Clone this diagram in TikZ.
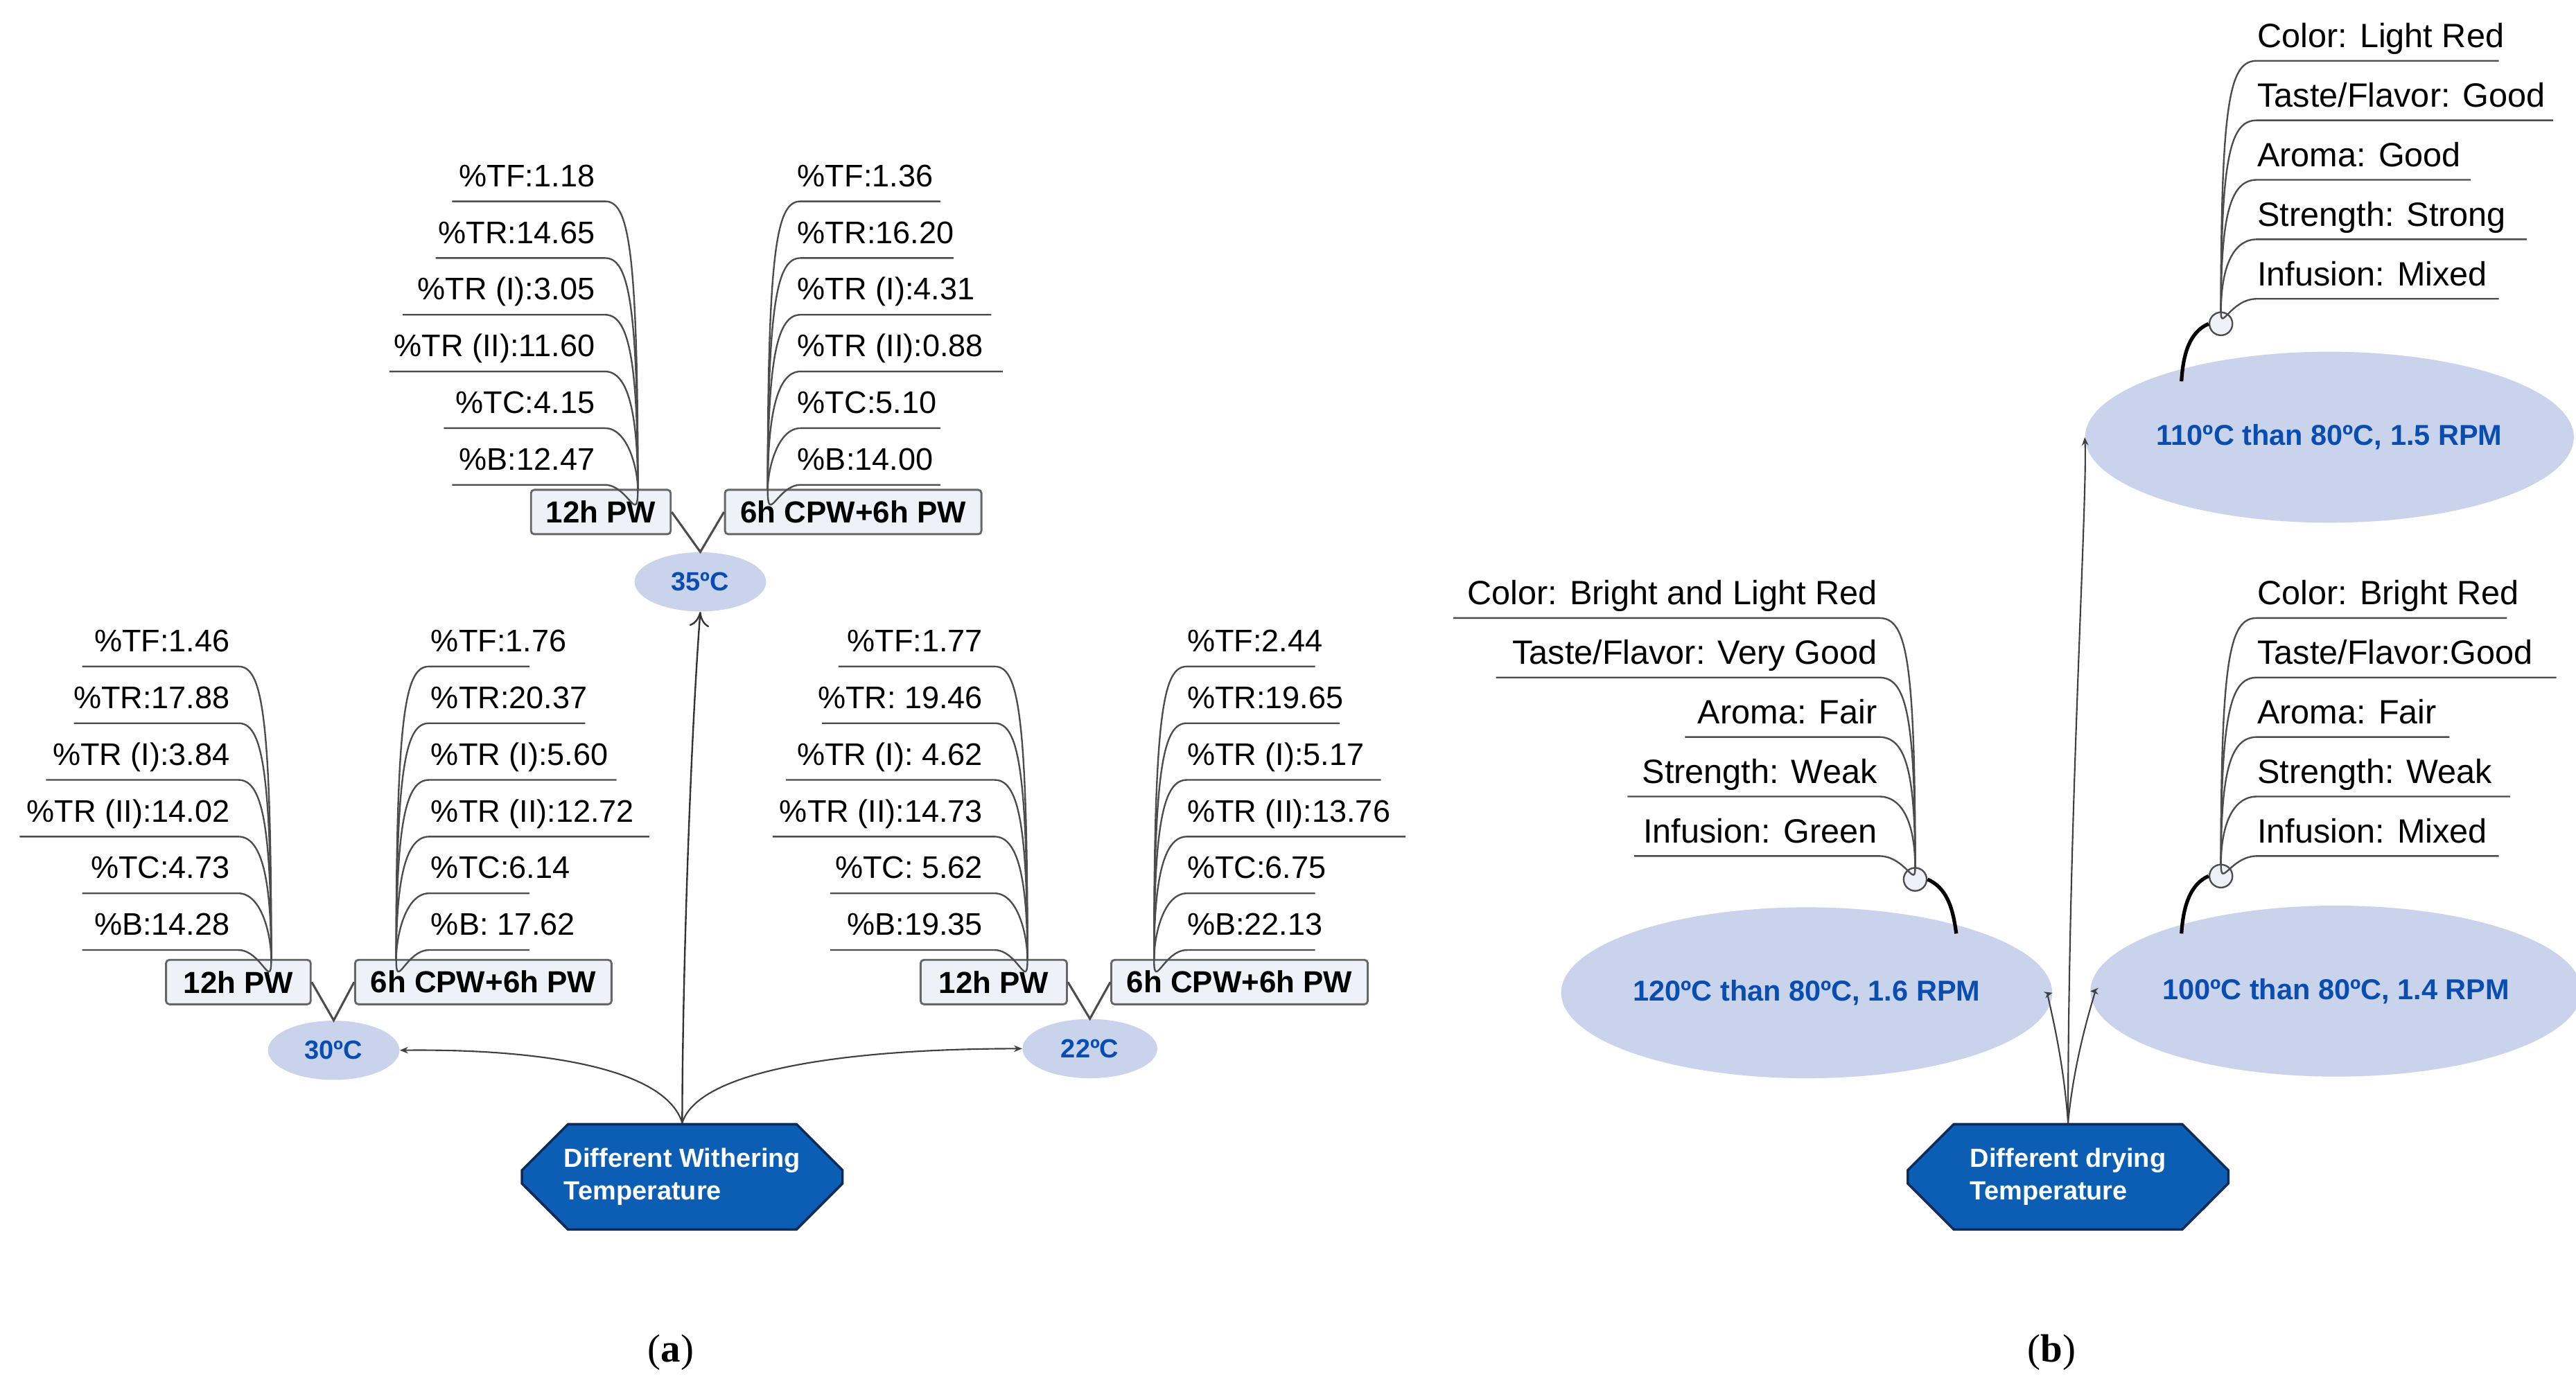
\documentclass[tikz,border=0pt]{standalone}
\usepackage{fontspec}
\setmainfont{Liberation Sans}
\newfontfamily\capfont{Liberation Serif}
\usetikzlibrary{shapes.geometric,shapes.misc,arrows.meta}
\definecolor{ellfill}{HTML}{C9D3EB}
\definecolor{elltext}{HTML}{0A4DB0}
\definecolor{rootfill}{HTML}{0B5EB3}
\definecolor{rootdraw}{HTML}{0B2C5A}
\definecolor{boxfill}{HTML}{EEF1F8}
\tikzset{
  leaf/.style={inner sep=0pt, font=\fontsize{19}{21}\selectfont},
  leafb/.style={inner sep=0pt, font=\fontsize{20.5}{23}\selectfont},
  leafline/.style={draw=black!70, line width=1pt},
  box/.style={draw=black!60, line width=1.2pt, fill=boxfill, rounded corners=2pt, minimum height=27pt, inner sep=0pt, font=\bfseries\fontsize{18.5}{20}\selectfont},
  temp/.style={ellipse, fill=ellfill, inner sep=0pt, text=elltext, font=\bfseries\fontsize{16}{18}\selectfont},
  tempb/.style={temp, font=\bfseries\fontsize{17.5}{19}\selectfont},
  root/.style={chamfered rectangle, chamfered rectangle xsep=14pt, chamfered rectangle ysep=14pt, fill=rootfill, draw=rootdraw, line width=1.5pt, minimum width=195pt, minimum height=64pt, text=white, align=left, font=\bfseries\fontsize{16}{20}\selectfont, inner sep=0pt},
  arr/.style={draw=black!75, line width=0.9pt, -{Stealth[length=5pt,width=4pt]}},
  thick/.style={draw=black, line width=2.2pt},
  dot/.style={circle, draw=black!70, fill=boxfill, line width=1pt, minimum size=14pt, inner sep=0pt}
}
\newcommand\myleafsL[6]{%
 \foreach \l/\t [count=\i] in {#6} {
   \pgfmathsetmacro\yy{#5+(\i-1)*34.5}
   \node[leaf, anchor=base east] (#1t\i) at (#4,\yy-9) {\t};
   \coordinate (#1s\i) at (\l,\yy);
   \draw[leafline] (#1s\i) -- ({#2-20},\yy) .. controls ({#2-6},\yy) and (#2,{\yy+25}) .. (#2,#3);
 }}
\newcommand\myleafsR[6]{%
 \foreach \l/\t [count=\i] in {#6} {
   \pgfmathsetmacro\yy{#5+(\i-1)*34.5}
   \node[leaf, anchor=base west] (#1t\i) at (#4,\yy-9) {\t};
   \coordinate (#1s\i) at (\l,\yy);
   \draw[leafline] (#1s\i) -- ({#2+20},\yy) .. controls ({#2+6},\yy) and (#2,{\yy+25}) .. (#2,#3);
 }}
\newcommand\myattr[7]{%
 \foreach \l/\t [count=\i] in {#6} {
   \pgfmathsetmacro\yy{#5+(\i-1)*36.2}
   \ifnum#7>0
     \node[leafb, anchor=base west] (#1t\i) at (#4,\yy-8) {\t};
   \else
     \node[leafb, anchor=base east] (#1t\i) at (#4,\yy-8) {\t};
   \fi
   \coordinate (#1s\i) at (\l,\yy);
   \draw[leafline] (#1s\i) -- ({#2+#7*22},\yy) .. controls ({#2+#7*6},\yy) and (#2,{\yy+20}) .. (#2,{#3-7});
 }}
\begin{document}
\begin{tikzpicture}[x=1pt,y=-1pt]
\useasboundingbox (0,0) rectangle (1567,851);
% ---------- (a) ----------
\node[root] (rA) at (415,716) {Different Withering\\Temperature};
\node[temp, minimum width=80pt, minimum height=36pt] (t35) at (426,354) {35ºC};
\node[temp, minimum width=80pt, minimum height=36pt] (t30) at (203,639) {30ºC};
\node[temp, minimum width=82pt, minimum height=36pt] (t22) at (663,638) {22ºC};
\node[box, minimum width=85pt] (b35a) at (365.5,311.5) {12h PW};
\node[box, minimum width=156pt] (b35b) at (519,311.5) {6h CPW+6h PW};
\node[box, minimum width=88pt] (b30a) at (145,597.5) {12h PW};
\node[box, minimum width=156pt] (b30b) at (294,597.5) {6h CPW+6h PW};
\node[box, minimum width=89pt] (b22a) at (604.5,597.5) {12h PW};
\node[box, minimum width=156pt] (b22b) at (754,597.5) {6h CPW+6h PW};
\foreach \a/\b/\t in {b35a/b35b/t35,b30a/b30b/t30,b22a/b22b/t22}
  \draw[leafline, line width=1.3pt] (\a.east) -- (\t.north) -- (\b.west);
\myleafsL{La}{388}{298}{362}{122.5}{275/{\%TF:1.18},265/{\%TR:14.65},245/{\%TR (I):3.05},237/{\%TR (II):11.60},270/{\%TC:4.15},275/{\%B:12.47}}
\myleafsR{Ra}{467}{298}{485}{122.5}{572/{\%TF:1.36},580/{\%TR:16.20},603/{\%TR (I):4.31},610/{\%TR (II):0.88},572/{\%TC:5.10},572/{\%B:14.00}}
\myleafsL{Lb}{165}{584}{140}{405.5}{50/{\%TF:1.46},45/{\%TR:17.88},28/{\%TR (I):3.84},12/{\%TR (II):14.02},50/{\%TC:4.73},50/{\%B:14.28}}
\myleafsR{Rb}{241}{584}{262}{405.5}{322/{\%TF:1.76},356/{\%TR:20.37},375/{\%TR (I):5.60},395/{\%TR (II):12.72},322/{\%TC:6.14},322/{\%B: 17.62}}
\myleafsL{Lc}{625}{584}{598}{405.5}{510/{\%TF:1.77},500/{\%TR: 19.46},478/{\%TR (I): 4.62},470/{\%TR (II):14.73},505/{\%TC: 5.62},505/{\%B:19.35}}
\myleafsR{Rc}{702}{584}{722}{405.5}{800/{\%TF:2.44},815/{\%TR:19.65},840/{\%TR (I):5.17},855/{\%TR (II):13.76},800/{\%TC:6.75},800/{\%B:22.13}}
\draw[draw=black!80, line width=1pt, -{To[length=9pt,width=12pt]}] (rA.north) .. controls (415,600) and (420,450) .. (t35.south);
\draw[arr] (rA.north) .. controls (405,650) and (330,638) .. (t30.east);
\draw[arr] (rA.north) .. controls (425,650) and (520,638) .. (t22.west);
\node[font=\capfont\fontsize{24}{26}\selectfont] (capA) at (408,823) {(\textbf{a})};
% ---------- (b) ----------
\node[root] (rB) at (1258,716) {Different drying\\Temperature};
\node[tempb, minimum width=234pt, minimum height=104pt] (e110) at (1417,266) {110ºC than 80ºC, 1.5 RPM};
\node[tempb, minimum width=234pt, minimum height=104pt] (e120) at (1099,604) {120ºC than 80ºC, 1.6 RPM};
\node[tempb, minimum width=238pt, minimum height=104pt] (e100) at (1421,603) {100ºC than 80ºC, 1.4 RPM};
\node[dot] (d110) at (1351,197) {};
\node[dot] (d100) at (1351,533) {};
\node[dot] (d120) at (1165,535) {};
\draw[thick] (d110.west) .. controls (1332,202) and (1328,215) .. (1327,232);
\draw[thick] (d100.west) .. controls (1332,538) and (1328,552) .. (1327,568);
\draw[thick] (d120.east) .. controls (1184,540) and (1188,552) .. (1190,568);
\myattr{Pa}{1351}{197}{1373}{37}{1520/{Color: Light Red},1553/{Taste/Flavor: Good},1503/{Aroma: Good},1537/{Strength: Strong},1520/{Infusion: Mixed}}{1}
\myattr{Pb}{1351}{533}{1373}{376}{1525/{Color: Bright Red},1555/{Taste/Flavor:Good},1490/{Aroma: Fair},1527/{Strength: Weak},1520/{Infusion: Mixed}}{1}
\myattr{Pc}{1165}{535}{1142}{376}{884/{Color: Bright and Light Red},910/{Taste/Flavor: Very Good},1025/{Aroma: Fair},990/{Strength: Weak},994/{Infusion: Green}}{-1}
\draw[arr] (rB.north) .. controls (1255,640) and (1245,605) .. (e120.east);
\draw[arr] (rB.north) .. controls (1262,640) and (1275,603) .. (e100.west);
\draw[arr] (rB.north) .. controls (1258,500) and (1270,300) .. (e110.west);
\node[font=\capfont\fontsize{24}{26}\selectfont] (capB) at (1248,823) {(\textbf{b})};
\end{tikzpicture}
\end{document}
